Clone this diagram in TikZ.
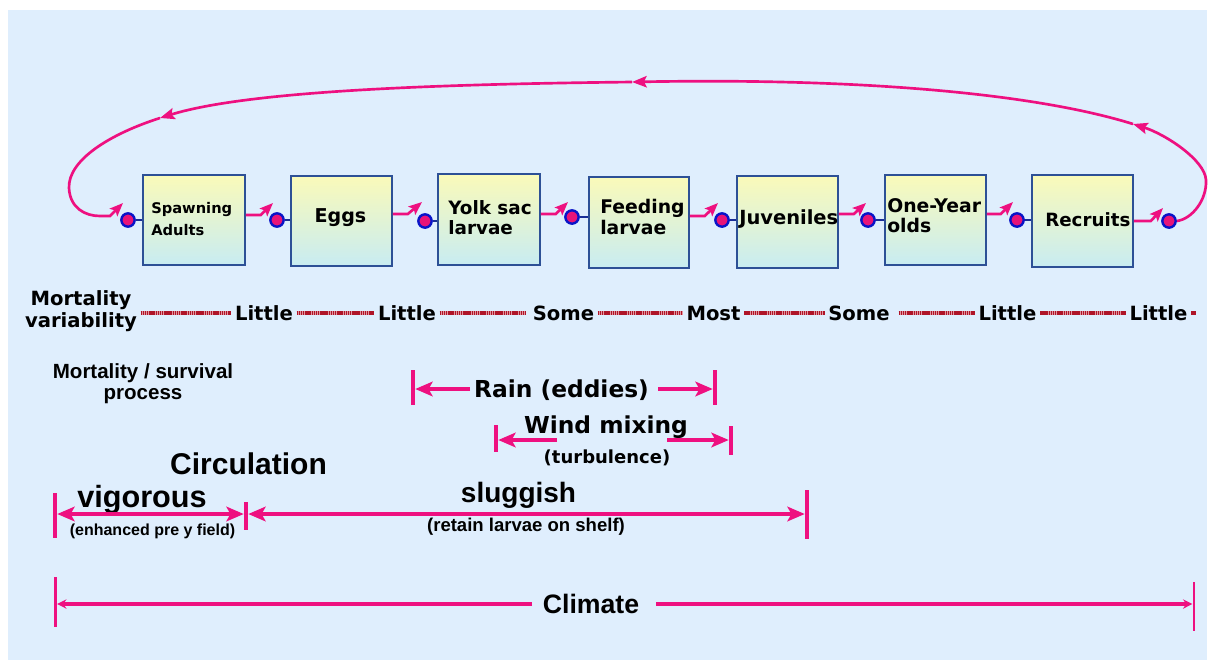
\documentclass[tikz,border=0pt]{standalone}
\usepackage{fontspec}
\setmainfont{Liberation Sans}
\newfontfamily\dv{DejaVu Sans}
\usetikzlibrary{arrows.meta}
\definecolor{bg}{RGB}{223,238,253}
\definecolor{pk}{RGB}{238,16,128}
\definecolor{dotpink}{RGB}{232,20,120}
\definecolor{dotblue}{RGB}{10,20,200}
\definecolor{linkblue}{RGB}{25,45,150}
\definecolor{boxline}{RGB}{45,80,150}
\definecolor{boxtop}{RGB}{250,250,185}
\definecolor{boxbot}{RGB}{200,236,242}
\definecolor{dotred}{RGB}{175,20,40}
\definecolor{dotlight}{RGB}{225,150,160}
\begin{document}
\begin{tikzpicture}[x=0.75pt,y=-0.75pt,
  box/.style={draw=boxline, line width=1.2pt, top color=boxtop, bottom color=boxbot, inner sep=0pt},
  dotn/.style={circle, draw=dotblue, fill=dotpink, line width=1.8pt, minimum size=10pt, inner sep=0pt},
  bline/.style={draw=linkblue, line width=1.6pt},
  parr/.style={draw=pk, line width=2pt, -{Stealth[length=10pt,width=8pt,inset=2pt]}},
  ploop/.style={draw=pk, line width=2pt, -{Stealth[length=11pt,width=8.5pt,inset=2pt]}},
  dotl/.style={preaction={draw=dotlight, line width=2.4pt}, draw=dotred, line width=2.4pt, dash pattern=on 1.1pt off 0.5pt},
  darr/.style={draw=pk, line width=2.3pt, -{Stealth[length=13pt,width=11pt,inset=3pt]}},
  ddarr/.style={draw=pk, line width=2.3pt, {Stealth[length=13pt,width=11pt,inset=3pt]}-{Stealth[length=13pt,width=11pt,inset=3pt]}},
  carr/.style={draw=pk, line width=2.3pt, -{Stealth[length=7pt,width=7pt]}},
  pbar/.style={rectangle, fill=pk, inner sep=0pt, minimum width=3pt, anchor=north},
  lbl/.style={inner sep=0pt, text=black},
  boxtxt/.style={inner sep=0pt, text=black, align=left},
  word/.style={font=\dv\bfseries\fontsize{14.7}{17}\selectfont, inner xsep=2.5pt, inner ysep=0pt, text height=10.7pt, text depth=0pt}
]
\useasboundingbox (0,0) rectangle (1210,662);
\fill[white] (0,0) rectangle (1210,662);
\fill[bg] (8,10) rectangle (1207,660);

% boxes
\node[box, minimum width=76.5pt, minimum height=67.5pt] (b1) at (194,220) {};
\node[box, minimum width=75.75pt, minimum height=67.5pt] (b2) at (341.5,221) {};
\node[box, minimum width=76.5pt, minimum height=68.25pt] (b3) at (489,219.5) {};
\node[box, minimum width=75pt, minimum height=68.25pt] (b4) at (639,222.5) {};
\node[box, minimum width=75.75pt, minimum height=69pt] (b5) at (787.5,222) {};
\node[box, minimum width=75.75pt, minimum height=67.5pt] (b6) at (935.5,220) {};
\node[box, minimum width=75.75pt, minimum height=69pt] (b7) at (1082.5,221) {};

% box texts
\node[boxtxt, anchor=west, font=\dv\bfseries\fontsize{11}{16.5}\selectfont] (t1) at (151,219.5) {Spawning\\Adults};
\node[boxtxt, anchor=base, font=\dv\bfseries\fontsize{14.3}{17}\selectfont] (t2) at (340.5,222) {Eggs};
\node[boxtxt, anchor=west, font=\dv\bfseries\fontsize{13.8}{15.5}\selectfont] (t3) at (448,217.5) {Yolk sac\\larvae};
\node[boxtxt, anchor=west, font=\dv\bfseries\fontsize{14.1}{15.5}\selectfont] (t4) at (600,217) {Feeding\\larvae};
\node[boxtxt, anchor=base west, font=\dv\bfseries\fontsize{14.6}{17}\selectfont] (t5) at (739,224) {Juveniles};
\node[boxtxt, anchor=west, font=\dv\bfseries\fontsize{14.1}{15}\selectfont] (t6) at (887,216) {One-Year\\olds};
\node[boxtxt, anchor=base west, font=\dv\bfseries\fontsize{13.7}{17}\selectfont] (t7) at (1045,226) {Recruits};

% dots and links
\node[dotn] (d1) at (128,220) {};
\node[dotn] (d2) at (277,220) {};
\node[dotn] (d3) at (425,221) {};
\node[dotn] (d4) at (572,217) {};
\node[dotn] (d5) at (722,220) {};
\node[dotn] (d6) at (868,220) {};
\node[dotn] (d7) at (1017,220) {};
\node[dotn] (d8) at (1169,221) {};
\foreach \i in {1,...,7} { \draw[bline] (d\i) -- (d\i -| b\i.west); }

% arrows between stages
\coordinate (a1) at (273,203);
\coordinate (a2) at (422,202);
\coordinate (a3) at (568,202);
\coordinate (a4) at (718,203);
\coordinate (a5) at (866,203);
\coordinate (a6) at (1013,202);
\coordinate (a7) at (1163,208);
\draw[parr] ([yshift=3.75pt]b1.east) -- ++(15,0) -- (a1);
\draw[parr] ([yshift=5.25pt]b2.east) -- ++(15,0) -- (a2);
\draw[parr] ([yshift=4.125pt]b3.east) -- ++(15,0) -- (a3);
\draw[parr] ([yshift=4.875pt]b4.east) -- ++(15,0) -- (a4);
\draw[parr] ([yshift=6pt]b5.east) -- ++(15,0) -- (a5);
\draw[parr] ([yshift=4.5pt]b6.east) -- ++(14,0) -- (a6);
\draw[parr] (b7.east) -- ++(17,0) -- (a7);

% big loop
\coordinate (L1) at (1133,124);
\coordinate (L2) at (632,82);
\coordinate (L3) at (160,118);
\coordinate (a0) at (123,203);
\draw[ploop] (d8.east) .. controls (1192,219) and (1207,200) .. (1206,180)
   .. controls (1205,160) and (1165,134) .. (L1);
\draw[ploop] (L1) .. controls (1030,92) and (850,78) .. (L2);
\draw[ploop] (L2) .. controls (450,84) and (250,90) .. (L3);
\draw[parr] (L3) .. controls (110,134) and (68,160) .. (69,188)
   .. controls (70,208) and (85,216) .. (100,216) -- (110,216) -- (a0);

% mortality variability row
\node[lbl, align=center, font=\dv\bfseries\fontsize{14.7}{16.5}\selectfont, inner xsep=2.5pt] (mv) at (81,311) {Mortality\\variability};
\node[word] (w1) at (264,313) {Little};
\node[word] (w2) at (407,313) {Little};
\node[word] (w3) at (563.5,313) {Some};
\node[word] (w4) at (713.5,313) {Most};
\node[word] (w5) at (859,313) {Some};
\node[word] (w6) at (1007.5,313) {Little};
\node[word] (w7) at (1158.5,313) {Little};
\coordinate (wend) at (1196,313);
\draw[dotl] (mv.east |- w1.west) -- (w1.west);
\draw[dotl] (w1) -- (w2);
\draw[dotl] (w2.east) -- ([xshift=-2.5pt]w3.west);
\draw[dotl] (w3) -- (w4);
\draw[dotl] (w4) -- (w5);
\draw[dotl] ([xshift=4pt]w5.east) -- (w6.west);
\draw[dotl] (w6) -- (w7);
\draw[dotl] (w7.east) -- (wend);

% process label
\node[lbl, align=center, font=\bfseries\fontsize{15.4}{15.75}\selectfont] (mp) at (143,384) {Mortality / survival\\process};

% Rain
\node[lbl, anchor=base, font=\dv\bfseries\fontsize{17.5}{20}\selectfont] (rain) at (561.5,397) {Rain (eddies)};
\node[pbar, minimum height=26.25pt] (rlb) at (413,370) {};
\node[pbar, minimum height=26.25pt] (rrb) at (715,370) {};
\coordinate (ra) at (470,389);
\coordinate (rb) at (658,389);
\draw[darr] (ra) -- (ra -| rlb.east);
\draw[darr] (rb) -- (rb -| rrb.west);

% Wind mixing
\node[lbl, anchor=base, font=\dv\bfseries\fontsize{17.5}{20}\selectfont] (wind) at (606,433) {Wind mixing};
\node[lbl, anchor=base, font=\dv\bfseries\fontsize{13.5}{16}\selectfont] (turb) at (607,463) {(turbulence)};
\node[pbar, minimum height=20.25pt] (wlb) at (496,425) {};
\node[pbar, minimum height=21.75pt] (wrb) at (731,426) {};
\coordinate (wa) at (557,440);
\coordinate (wb) at (667,440);
\draw[darr] (wa) -- (wa -| wlb.east);
\draw[darr] (wb) -- (wb -| wrb.west);

% Circulation
\node[lbl, anchor=base, font=\bfseries\fontsize{22.5}{26}\selectfont] (circ) at (248.5,474) {Circulation};
\node[lbl, anchor=base, font=\bfseries\fontsize{23}{26}\selectfont] (vig) at (142,507) {vigorous};
\node[lbl, anchor=base, font=\bfseries\fontsize{12}{14}\selectfont] (enh) at (152.5,535) {(enhanced pre y field)};
\node[lbl, anchor=base, font=\bfseries\fontsize{21}{24}\selectfont] (slug) at (518.5,502) {sluggish};
\node[lbl, anchor=base, font=\bfseries\fontsize{13.9}{16}\selectfont] (ret) at (526,531) {(retain larvae on shelf)};
\node[pbar, minimum height=33.75pt] (vlb) at (55,493) {};
\node[pbar, minimum height=21pt] (vrb) at (246,502) {};
\node[pbar, minimum height=36.75pt] (srb) at (807,490) {};
\coordinate (vy) at (150,514);
\draw[ddarr] (vy -| vlb.east) -- (vy -| vrb.west);
\draw[ddarr] (vy -| vrb.east) -- (vy -| srb.west);

% Climate
\node[lbl, anchor=base, font=\bfseries\fontsize{20}{24}\selectfont] (clim) at (591,613) {Climate};
\node[pbar, minimum width=2pt, minimum height=37.5pt] (clb) at (55.5,577) {};
\node[pbar, minimum width=2pt, minimum height=36.75pt] (crb) at (1194,582) {};
\coordinate (ca) at (532,604);
\coordinate (cb) at (656,604);
\draw[carr] (ca) -- (ca -| clb.east);
\draw[carr] (cb) -- (cb -| crb.west);
\end{tikzpicture}
\end{document}
